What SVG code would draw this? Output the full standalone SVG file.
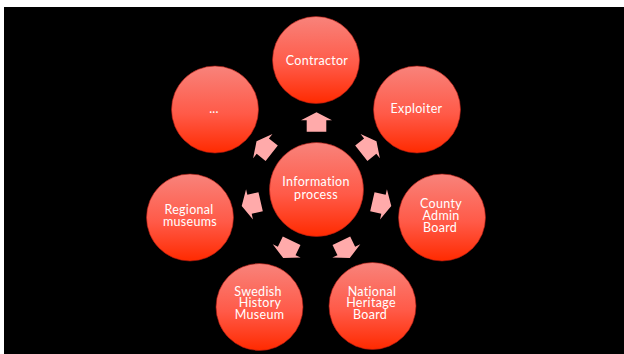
<svg xmlns="http://www.w3.org/2000/svg" width="624" height="354" viewBox="0 0 624 354">
  <defs>
    <linearGradient id="red" x1="0" y1="0" x2="0" y2="1">
      <stop offset="0" stop-color="#f8837b"/>
      <stop offset="0.55" stop-color="#ff5a48"/>
      <stop offset="1" stop-color="#ff2a00"/>
    </linearGradient>
    <path id="arr" d="M0,-76.7 L15.5,-68.7 L9.8,-68.7 L9.8,-57.3 L-9.8,-57.3 L-9.8,-68.7 L-15.5,-68.7 Z"/>
  </defs>
  <style>
    .node circle { fill: url(#red); stroke: #b01a10; stroke-width: 0.6; }
    .node text { fill: #ffffff; font-family: Lato, "Open Sans", "Liberation Sans", sans-serif; font-size: 12.5px; letter-spacing: 0.3px; text-anchor: middle; }
    .conn use { fill: #ffaaaa; }
  </style>
  <rect x="0" y="0" width="624" height="354" fill="#ffffff"/>
  <rect x="4" y="7" width="620" height="347" fill="#000000"/>

  <g id="connectors" class="conn" transform="translate(316.5,189)">
    <use href="#arr" transform="rotate(0)"/>
    <use href="#arr" transform="rotate(51.43)"/>
    <use href="#arr" transform="rotate(102.86)"/>
    <use href="#arr" transform="rotate(154.29)"/>
    <use href="#arr" transform="rotate(205.71)"/>
    <use href="#arr" transform="rotate(257.14)"/>
    <use href="#arr" transform="rotate(308.57)"/>
  </g>

  <g id="center" class="node">
    <circle cx="316.5" cy="189.5" r="47"/>
    <text x="316" y="185.5">Information</text>
    <text x="316" y="198.5">process</text>
  </g>
  <g id="contractor" class="node">
    <circle cx="316" cy="60" r="43.5"/>
    <text x="317" y="65">Contractor</text>
  </g>
  <g id="exploiter" class="node">
    <circle cx="417" cy="109.5" r="43.5"/>
    <text x="416.5" y="113">Exploiter</text>
  </g>
  <g id="county" class="node">
    <circle cx="442" cy="217.5" r="43.5"/>
    <text x="441" y="207.5">County</text>
    <text x="441" y="219.5">Admin</text>
    <text x="440" y="232">Board</text>
  </g>
  <g id="national" class="node">
    <circle cx="372.5" cy="306" r="43.5"/>
    <text x="372" y="295.5">National</text>
    <text x="371" y="307">Heritage</text>
    <text x="370" y="319">Board</text>
  </g>
  <g id="swedish" class="node">
    <circle cx="259.5" cy="307" r="43.5"/>
    <text x="258" y="295.5">Swedish</text>
    <text x="260" y="307">History</text>
    <text x="259.5" y="319">Museum</text>
  </g>
  <g id="regional" class="node">
    <circle cx="190" cy="217.5" r="43.5"/>
    <text x="189" y="214">Regional</text>
    <text x="190" y="226">museums</text>
  </g>
  <g id="more" class="node">
    <circle cx="215" cy="109.5" r="43.5"/>
    <text x="214" y="113">...</text>
  </g>
</svg>
